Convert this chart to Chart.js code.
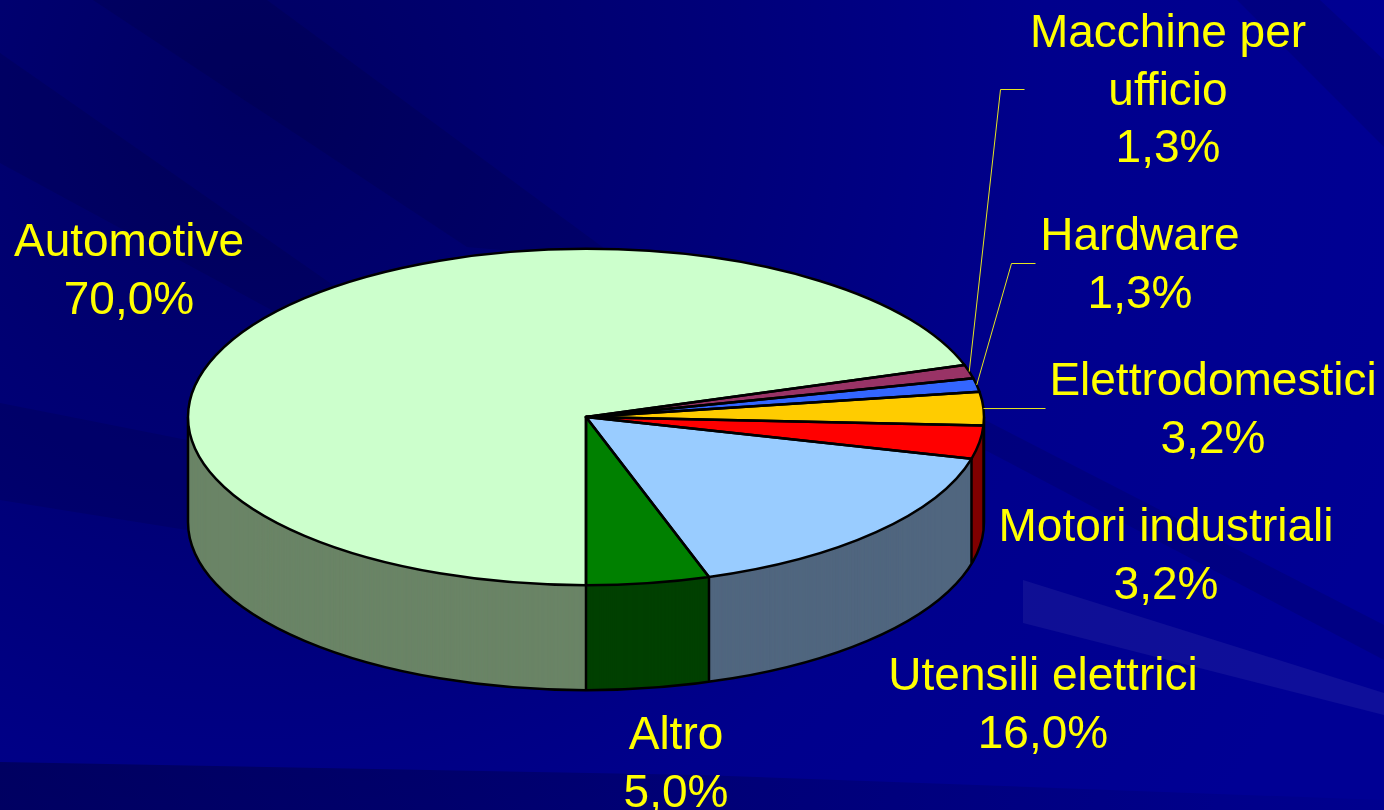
<!DOCTYPE html>
<html>
<head>
<meta charset="utf-8">
<title>Settori</title>
<script src="https://cdn.jsdelivr.net/npm/chart.js@4"></script>
<style>
  html, body { margin: 0; padding: 0; width: 1384px; height: 810px; overflow: hidden; background: #00008c; }
  #bg, .ray { position: absolute; left: 0; top: 0; width: 1384px; height: 810px; }
  #bg { background: radial-gradient(circle at 250px 100px, #000062 0, #000078 450px, #00008c 800px, #000094 1200px); }
  .ray { background: rgba(0,0,30,.13); }
  #ray1 { clip-path: polygon(93px 0, 267px 0, 620px 260px, 467px 247px); }
  #ray2 { clip-path: polygon(0 53px, 0 163px, 290px 320px, 340px 290px); }
  #ray3 { clip-path: polygon(1237px 0, 1320px 0, 1384px 60px, 1384px 147px); }
  #ray4 { clip-path: polygon(985px 420px, 985px 450px, 1384px 660px, 1384px 625px); }
  #ray5 { clip-path: polygon(0 403px, 187px 440px, 187px 530px, 0 500px); }
  #ray6 { background: rgba(255,255,255,.06); clip-path: polygon(1023px 580px, 1384px 693px, 1384px 715px, 1023px 623px); }
  #ray7 { background: linear-gradient(to right, rgba(0,0,40,.4), rgba(0,0,40,.05)); clip-path: polygon(0 762px, 700px 775px, 1384px 800px, 1384px 810px, 0 810px); }
  canvas { position: absolute; left: 0; top: 0; }
</style>
</head>
<body>
<div id="bg"></div>
<div id="ray1" class="ray"></div>
<div id="ray2" class="ray"></div>
<div id="ray3" class="ray"></div>
<div id="ray4" class="ray"></div>
<div id="ray5" class="ray"></div>
<div id="ray6" class="ray"></div>
<div id="ray7" class="ray"></div>
<canvas id="chart-pie" width="1384" height="810"></canvas>
<script>
// dati
const names = ['Automotive', 'Macchine per|ufficio', 'Hardware', 'Elettrodomestici', 'Motori industriali', 'Utensili elettrici', 'Altro'];
const values = [70.0, 1.3, 1.3, 3.2, 3.2, 16.0, 5.0];
const top_colors = ['#CCFFCC', '#993366', '#3366FF', '#FFCC00', '#FF0000', '#99CCFF', '#008000'];
const side_colors = ['#6A8466', '#4D1A33', '#1A3380', '#806600', '#800000', '#50667F', '#004000'];

// posizione delle etichette: [centro x, prima linea di base]
const label_pos = [[129, 256], [1168, 47], [1140, 250], [1213, 395], [1166, 541], [1043, 690], [676, 749]];
// gomito delle linee guida: lista di punti, poi ancorata al bordo della fetta
const leaders = { 1: [[1024, 89], [1000, 89]], 2: [[1035, 263], [1011, 263]], 3: [[1045, 408]] };

const SQUASH = 0.4225; // schiacciamento dell'ellisse
const DEPTH = 105;     // altezza del cilindro
const CENTER_Y = 417;

function percent_text(v) {
  return v.toFixed(1).replace('.', ',') + '%';
}

function squash(ctx, arc, dy) {
  ctx.setTransform(1, 0, 0, SQUASH, 0, CENTER_Y + dy - arc.y * SQUASH);
}

// la parete laterale: stessi archi, ripetuti verso il basso con i colori scuri
function draw_side(chart) {
  const ctx = chart.ctx;
  const arcs = chart.getDatasetMeta(0).data;
  const { x, outerRadius: r } = arcs[0];

  ctx.save();
  for (let d = DEPTH; d >= 1; d--) {
    squash(ctx, arcs[0], d);
    arcs.forEach((arc, i) => {
      const o = arc.options;
      arc.options = Object.create(o);
      arc.options.backgroundColor = side_colors[i];
      arc.draw(ctx);
      arc.options = o;
    });
  }
  ctx.restore();

  // contorno inferiore e spigoli verticali
  ctx.save();
  ctx.strokeStyle = '#000';
  ctx.lineWidth = 2.5;
  ctx.lineJoin = 'round';
  ctx.beginPath();
  ctx.ellipse(x, CENTER_Y + DEPTH, r, r * SQUASH, 0, 0, Math.PI);
  const edges = [0, Math.PI];
  arcs.forEach(arc => edges.push(arc.startAngle));
  edges.forEach(a => {
    if (Math.sin(a) < -0.001) return;
    const px = x + r * Math.cos(a);
    const py = CENTER_Y + r * SQUASH * Math.sin(a);
    ctx.moveTo(px, py);
    ctx.lineTo(px, py + DEPTH);
  });
  ctx.stroke();
  ctx.restore();
}

function draw_top_outline(chart) {
  const ctx = chart.ctx;
  ctx.save();
  ctx.strokeStyle = '#000';
  ctx.lineWidth = 2.5;
  ctx.lineJoin = 'round';
  chart.getDatasetMeta(0).data.forEach(arc => {
    const r = arc.outerRadius;
    ctx.beginPath();
    ctx.moveTo(arc.x, CENTER_Y);
    ctx.ellipse(arc.x, CENTER_Y, r, r * SQUASH, 0, arc.startAngle, arc.endAngle);
    ctx.closePath();
    ctx.stroke();
  });
  ctx.restore();
}

function draw_leaders(chart) {
  const ctx = chart.ctx;
  const arcs = chart.getDatasetMeta(0).data;
  ctx.save();
  ctx.strokeStyle = '#E6E620';
  ctx.lineWidth = 1;
  Object.keys(leaders).forEach(i => {
    const arc = arcs[i];
    const mid = (arc.startAngle + arc.endAngle) / 2;
    ctx.beginPath();
    leaders[i].forEach(([px, py], n) => {
      if (n === 0) ctx.moveTo(px + 0.5, py + 0.5);
      else ctx.lineTo(px + 0.5, py + 0.5);
    });
    ctx.lineTo(arc.x + arc.outerRadius * Math.cos(mid), CENTER_Y + arc.outerRadius * SQUASH * Math.sin(mid));
    ctx.stroke();
  });
  ctx.restore();
}

function draw_labels(chart) {
  const ctx = chart.ctx;
  ctx.save();
  ctx.font = '46px "Liberation Sans"';
  ctx.fillStyle = '#FFFF00';
  ctx.textAlign = 'center';
  ctx.textBaseline = 'alphabetic';
  names.forEach((name, i) => {
    const lines = name.split('|').concat(percent_text(values[i]));
    const [lx, ly] = label_pos[i];
    lines.forEach((t, n) => ctx.fillText(t, lx, ly + n * 57.5));
  });
  ctx.restore();
}

const pie3d = {
  id: 'pie3d',
  beforeDatasetsDraw(chart) {
    draw_side(chart);
    chart.ctx.save();
    squash(chart.ctx, chart.getDatasetMeta(0).data[0], 0);
  },
  afterDatasetsDraw(chart) {
    chart.ctx.restore();
    draw_top_outline(chart);
    draw_leaders(chart);
    draw_labels(chart);
  }
};

new Chart(document.getElementById('chart-pie').getContext('2d'), {
  type: 'pie',
  data: {
    labels: names,
    datasets: [{ data: values, backgroundColor: top_colors, borderWidth: 0, clip: false }]
  },
  options: {
    responsive: false,
    animation: false,
    rotation: 180,
    layout: { padding: { left: 188, right: 400, top: 7, bottom: 7 } },
    plugins: { legend: { display: false }, tooltip: { enabled: false } }
  },
  plugins: [pie3d]
});
</script>
</body>
</html>
